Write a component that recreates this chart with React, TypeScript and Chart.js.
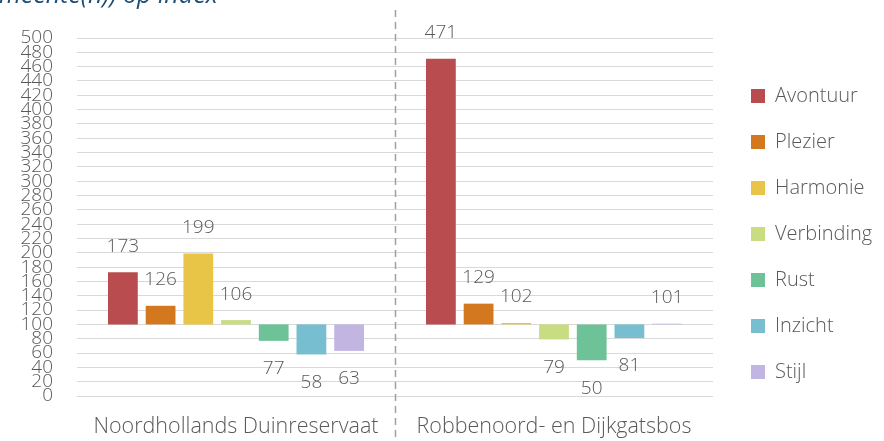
import React, { useEffect, useRef } from "react";
import { Chart, registerables } from "chart.js";

Chart.register(...registerables);

const categories = ["Noordhollands Duinreservaat", "Robbenoord- en Dijkgatsbos"];
const seriesNames = ["Avontuur", "Plezier", "Harmonie", "Verbinding", "Rust", "Inzicht", "Stijl"];
const avontuur = [173, 471];
const plezier = [126, 129];
const harmonie = [199, 102];
const verbinding = [106, 79];
const rust = [77, 50];
const inzicht = [58, 81];
const stijl = [63, 101];
const seriesValues = [avontuur, plezier, harmonie, verbinding, rust, inzicht, stijl];
const seriesColors = ["#b84c4e", "#d4781f", "#e8c547", "#c8dd82", "#6dc397", "#77bfd0", "#c2b5e2"];
const indexBase = 100;
const yMin = 0;
const yMax = 500;
const yStep = 20;
const titleText = "meente(n)) op index";

const FONT = "'Open Sans', Lato, sans-serif";
const TEXT_COLOR = "#595959";

const labelPlugin = {
  id: "valueLabels",
  afterDatasetsDraw(chart: any) {
    const ctx = chart.ctx;
    const yScale = chart.scales.y;
    ctx.save();
    ctx.font = `300 19px ${FONT}`;
    ctx.fillStyle = TEXT_COLOR;
    ctx.textAlign = "center";
    ctx.textBaseline = "middle";
    chart.data.datasets.forEach((ds: any, i: number) => {
      const meta = chart.getDatasetMeta(i);
      meta.data.forEach((el: any, j: number) => {
        const v = seriesValues[i][j];
        const y = yScale.getPixelForValue(v);
        const ty = v >= indexBase ? y - 26 : y + 28;
        ctx.fillText(String(v), el.x, ty);
      });
    });
    ctx.restore();
  },
};

const separatorPlugin = {
  id: "separator",
  afterDraw(chart: any) {
    const x = chart.scales.x;
    const ctx = chart.ctx;
    for (let i = 0; i < categories.length - 1; i++) {
      const px = Math.round((x.getPixelForTick(i) + x.getPixelForTick(i + 1)) / 2) + 0.5;
      ctx.save();
      ctx.strokeStyle = "#a0a0a0";
      ctx.lineWidth = 1.5;
      ctx.setLineDash([7, 5]);
      ctx.beginPath();
      ctx.moveTo(px, 10);
      ctx.lineTo(px, chart.height);
      ctx.stroke();
      ctx.restore();
    }
  },
};

const legendWidthPlugin = {
  id: "legendWidth",
  beforeLayout(chart: any) {
    const lg = chart.legend;
    if (lg && !lg._fixedWidth) {
      const orig = lg.fit.bind(lg);
      lg.fit = function () {
        orig();
        this.width = 159;
      };
      lg._fixedWidth = true;
    }
  },
  afterLayout(chart: any) {
    const lg = chart.legend;
    if (lg) {
      lg.bottom -= 11;
      lg.height -= 11;
    }
  },
};

export default function App() {
  const ref = useRef<HTMLCanvasElement>(null);
  useEffect(() => {
    if (!ref.current) return;
    const chart = new Chart(ref.current, {
      type: "bar",
      data: {
        labels: categories,
        datasets: seriesNames.map((name, i) => ({
          label: name,
          data: seriesValues[i].map((v) => [indexBase, v]) as any,
          backgroundColor: seriesColors[i],
          borderWidth: 0,
          categoryPercentage: 0.83,
          barPercentage: 0.79,
        })),
      },
      options: {
        responsive: false,
        animation: false,
        layout: { padding: { top: 38, bottom: 0, left: 0, right: 0 } },
        plugins: {
          legend: {
            position: "right",
            labels: {
              boxWidth: 14,
              boxHeight: 14,
              padding: 26,
              color: TEXT_COLOR,
              font: { family: FONT, size: 20, weight: "300" as any },
            },
          },
          tooltip: { enabled: false },
          title: { display: false },
        },
        scales: {
          x: {
            grid: { display: false, drawTicks: false },
            border: { display: false },
            ticks: {
              color: TEXT_COLOR,
              padding: 18,
              font: { family: FONT, size: 21.5, weight: "300" as any },
              maxRotation: 0,
            },
            afterFit: (s: any) => {
              s.height = 45;
            },
          },
          y: {
            min: yMin,
            max: yMax,
            grid: { color: "#d9d9d9", lineWidth: 1, drawTicks: false },
            border: { display: false },
            ticks: {
              stepSize: yStep,
              autoSkip: false,
              padding: 24,
              color: TEXT_COLOR,
              font: { family: FONT, size: 19, weight: "300" as any },
            },
            afterFit: (s: any) => {
              s.width = 77;
            },
          },
          spacer: {
            position: "right",
            display: true,
            grid: { display: false, drawTicks: false },
            border: { display: false },
            ticks: { display: false },
            afterFit: (s: any) => {
              s.width = 12;
            },
          },
        },
      },
      plugins: [legendWidthPlugin, labelPlugin, separatorPlugin],
    });
    return () => chart.destroy();
  }, []);
  return (
    <div style={{ position: "absolute", left: 0, top: 0, width: 884, height: 441, overflow: "hidden", background: "#fff" }}>
      <canvas ref={ref} width={884} height={441} style={{ position: "absolute", left: 0, top: 0 }} />
      <div
        style={{
          position: "absolute",
          left: -1,
          top: -21,
          fontFamily: "'Open Sans', sans-serif",
          fontStyle: "italic",
          fontSize: 25,
          lineHeight: "28px",
          color: "#1f4e79",
          whiteSpace: "nowrap",
        }}
      >
        {titleText}
      </div>
    </div>
  );
}
